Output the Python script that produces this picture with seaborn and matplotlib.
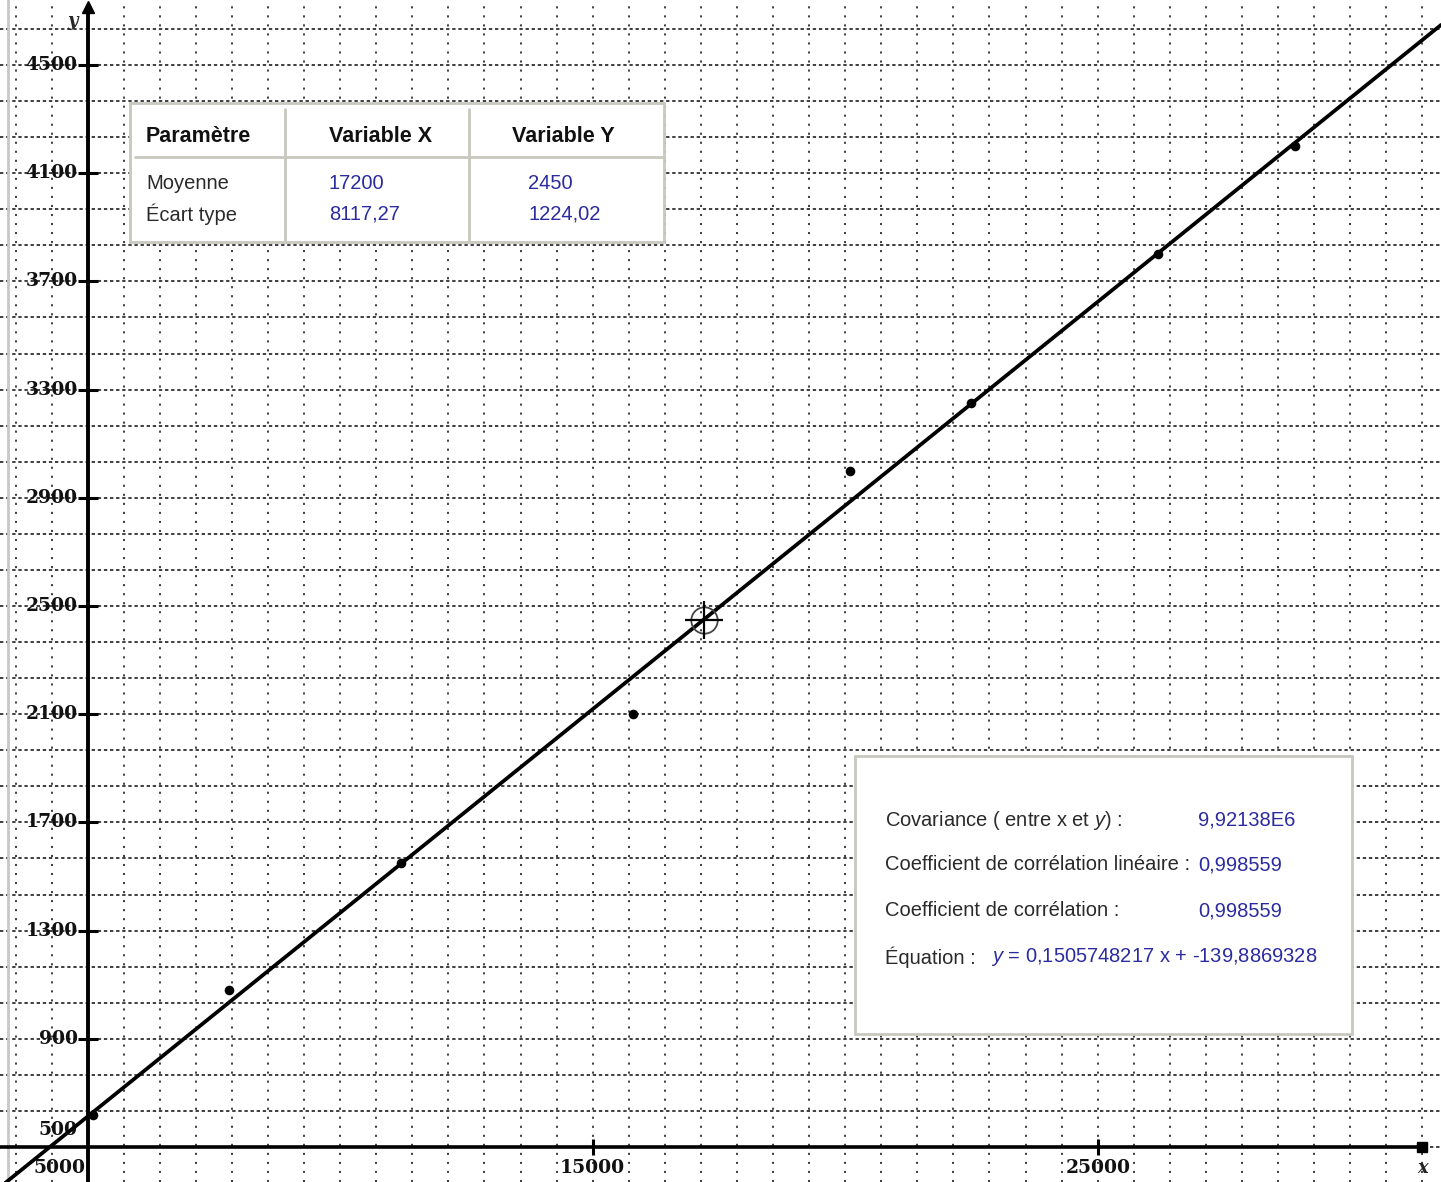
import numpy as np
import pandas as pd
import matplotlib
matplotlib.use("Agg")
import matplotlib.pyplot as plt
import seaborn as sns
from matplotlib.patches import Rectangle

# Observations (x, y)
x_values = [5100, 7800, 11200, 15800, 20100, 22500, 26200, 28900]
y_values = [620, 1080, 1550, 2100, 3000, 3250, 3800, 4200]

# Axis annotations
origin_x, origin_y = 5000, 500
y_tick_values = [900, 1300, 1700, 2100, 2500, 2900, 3300, 3700, 4100, 4500]
x_tick_values = [15000, 25000]

# Texts of the two information panels
table_header = ["Paramètre", "Variable X", "Variable Y"]
table_rows = ["Moyenne", "Écart type"]
stat_labels = ["Covariance ( entre x et $y$) :",
               "Coefficient de corrélation linéaire :",
               "Coefficient de corrélation :"]
equation_label = "Équation :"

sns.set_style("white")
plt.rcParams["font.family"] = ["Liberation Sans", "DejaVu Sans"]
plt.rcParams["mathtext.fontset"] = "custom"
plt.rcParams["mathtext.it"] = "Liberation Sans:italic"
plt.rcParams["mathtext.rm"] = "Liberation Sans"
plt.rcParams["lines.scale_dashes"] = False

df = pd.DataFrame({"x": x_values, "y": y_values})

# Descriptive statistics (population form)
xv = df["x"].to_numpy(float)
yv = df["y"].to_numpy(float)
mx, my = xv.mean(), yv.mean()
sx, sy = xv.std(), yv.std()
cov = ((xv - mx) * (yv - my)).mean()
r = cov / (sx * sy)
slope = cov / sx ** 2
intercept = my - slope * mx


def fr(v, sig=6):
    return f"{v:.{sig}g}".replace(".", ",")


def fr_sci(v):
    mant, exp = f"{v:.5E}".split("E")
    return f"{mant.replace('.', ',')}E{int(exp)}"


W, H = 1441, 1182
fig = plt.figure(figsize=(W / 100, H / 100), dpi=100, facecolor="white")
ax = fig.add_axes([0, 0, 1, 1])
ax.set_axis_off()

# scale: 10000 x-units per 505 px, 400 y-units per 108.2 px
xpx = 505 / 10000
ypx = 108.2 / 400
x0_px, y0_px = 87.7, 1147
ax.set_xlim(origin_x - x0_px / xpx, origin_x + (W - x0_px) / xpx)
ax.set_ylim(origin_y - (H - y0_px) / ypx, origin_y + y0_px / ypx)
xmin, xmax = ax.get_xlim()
ymin, ymax = ax.get_ylim()


def fp(px, py):
    return px / W, 1 - py / H


# dotted grid, square cells
gx = origin_x + np.arange(-2, 40) * 10000 / 14
gy = origin_y + np.arange(-1, 33) * 400 / 3
ax.vlines(gx, ymin, ymax, colors="#1e1e1e", linewidth=1.2,
          linestyles=[(0, (1.5, 5.0))], zorder=1)
ax.hlines(gy, xmin, xmax, colors="#1e1e1e", linewidth=1.2,
          linestyles=[(0, (2.4, 2.0))], zorder=1)

# left frame edge
ax.plot([8 / W, 8 / W], [0, 1], transform=ax.transAxes, color="#c8c8c8", lw=2, zorder=2)

# axes
x_end = origin_x + 37 * 10000 / 14
y_end = 4715
ax.plot([xmin, x_end], [origin_y, origin_y], color="black", lw=2.6, zorder=3,
        solid_capstyle="butt")
ax.plot([origin_x, origin_x], [ymin, y_end], color="black", lw=2.8, zorder=3,
        solid_capstyle="butt")
ax.plot([x_end], [origin_y], marker="s", ms=7, color="black", zorder=3)
ax.plot([origin_x], [y_end], marker="^", ms=9, color="black", zorder=3)

# ticks
ax.plot(np.full(len(y_tick_values), origin_x), y_tick_values, ls="none", marker="_",
        ms=15, mew=2.2, color="black", zorder=3)
ax.plot(x_tick_values, np.full(len(x_tick_values), origin_y), ls="none", marker="|",
        ms=12, mew=2.2, color="black", zorder=3)

tick_font = dict(family="DejaVu Serif", weight="bold", fontsize=13.5, color="#111111")
for v in y_tick_values:
    ax.annotate(str(v), xy=(origin_x, v), xytext=(-10, 0), textcoords="offset pixels",
                ha="right", va="center", zorder=4, **tick_font)
ax.annotate(str(origin_y), xy=(origin_x, origin_y), xytext=(-10, 17),
            textcoords="offset pixels", ha="right", va="center", zorder=4, **tick_font)
ax.annotate(str(origin_x), xy=(origin_x, origin_y), xytext=(-2, -21),
            textcoords="offset pixels", ha="right", va="center", zorder=4, **tick_font)
for v in x_tick_values:
    ax.annotate(str(v), xy=(v, origin_y), xytext=(0, -21), textcoords="offset pixels",
                ha="center", va="center", zorder=4, **tick_font)
ax.annotate("x", xy=(x_end, origin_y), xytext=(0, -21), textcoords="offset pixels",
            ha="center", va="center", family="DejaVu Serif", weight="bold",
            style="italic", fontsize=13, zorder=4)
ax.annotate("y", xy=(origin_x, y_end), xytext=(-15, -14), textcoords="offset pixels",
            ha="center", va="center", family="DejaVu Serif", weight="bold",
            style="italic", fontsize=13, zorder=4)

# observations and least-squares line
sns.regplot(data=df, x="x", y="y", ax=ax, ci=None, truncate=False,
            scatter_kws=dict(s=48, color="black", marker="o", zorder=6, linewidths=0,
                             alpha=1),
            line_kws=dict(color="black", lw=2.7, zorder=5))
ax.set_xlim(xmin, xmax)
ax.set_ylim(ymin, ymax)

# mean point
ax.plot([mx], [my], marker="o", ms=19, mfc="none", mec="#444444", mew=1.3, zorder=7)
ax.plot([mx], [my], marker="+", ms=28, mec="black", mew=1.6, zorder=7)

# ---- statistics table
border = "#c8c8c0"
tl, tt, tr, tb = 130, 103, 664, 242
ax.add_patch(Rectangle(fp(tl, tb), (tr - tl) / W, (tb - tt) / H, transform=ax.transAxes,
                       fc="white", ec=border, lw=2, zorder=8))
for cx in (285, 469):
    ax.plot(*zip(fp(cx, tt + 6), fp(cx, tb)), transform=ax.transAxes, color=border,
            lw=2, zorder=9)
ax.plot(*zip(fp(tl + 5, 157), fp(tr, 157)), transform=ax.transAxes, color=border,
        lw=2, zorder=9)

blue = "#2b2ba0"
dark = "#2a2a2a"
head_x = [146, 329, 512]
for hx, txt in zip(head_x, table_header):
    ax.text(*fp(hx, 137), txt, transform=ax.transAxes, ha="left", va="center",
            fontsize=15.5, weight="bold", color="#111111", zorder=10)
row_y = [184, 214]
col_values = [[fr(mx), fr(sx)], [fr(my), fr(sy)]]
for i, ry in enumerate(row_y):
    ax.text(*fp(146, ry), table_rows[i], transform=ax.transAxes, ha="left",
            va="center", fontsize=14.5, color=dark, zorder=10)
    ax.text(*fp(329, ry), col_values[0][i], transform=ax.transAxes, ha="left",
            va="center", fontsize=14.5, color=blue, zorder=10)
    ax.text(*fp(528, ry), col_values[1][i], transform=ax.transAxes, ha="left",
            va="center", fontsize=14.5, color=blue, zorder=10)

# ---- correlation panel
bl, bt, br, bb = 855, 756, 1352, 1034
ax.add_patch(Rectangle(fp(bl, bb), (br - bl) / W, (bb - bt) / H, transform=ax.transAxes,
                       fc="white", ec=border, lw=2, zorder=8))
stat_values = [fr_sci(cov), fr(r), fr(r)]
stat_y = [820, 865, 911]
for lab, val, sy_px in zip(stat_labels, stat_values, stat_y):
    ax.text(*fp(885, sy_px), lab, transform=ax.transAxes, ha="left", va="center",
            fontsize=14.5, color=dark, zorder=10)
    ax.text(*fp(1198, sy_px), val, transform=ax.transAxes, ha="left", va="center",
            fontsize=14.5, color=blue, zorder=10)
ax.text(*fp(885, 957), equation_label, transform=ax.transAxes, ha="left", va="center",
        fontsize=14.5, color=dark, zorder=10)
eq = f"$y$ = {fr(slope, 10)} x + {fr(intercept, 10)}"
ax.text(*fp(991, 957), eq, transform=ax.transAxes, ha="left", va="center",
        fontsize=14.5, color=blue, zorder=10)

fig.savefig("out.png", dpi=100, facecolor="white")
